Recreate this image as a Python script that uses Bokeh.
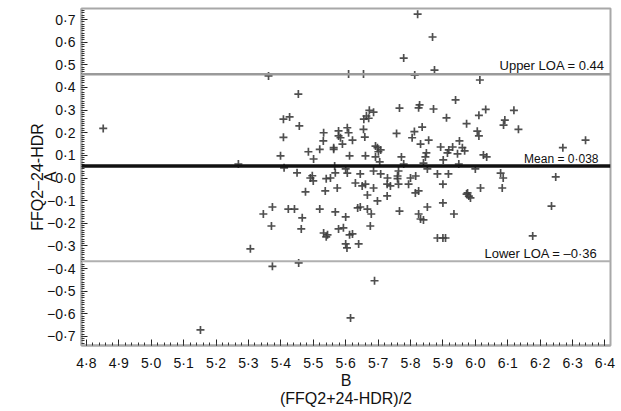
import numpy as np
from bokeh.plotting import figure
from bokeh.models import (ColumnDataSource, Span, Label, SingleIntervalTicker,
                          CustomJSTickFormatter, LinearAxis, FixedTicker)
from bokeh.embed import file_html
from bokeh.resources import INLINE

# ---- data ----
mean_x = [4.852, 5.269, 5.362, 5.454, 5.408, 5.427, 5.457, 5.408, 5.399, 5.485,
          5.501, 5.532, 5.531, 5.520, 5.563, 5.578, 5.578, 5.450, 5.497, 5.540,
          5.410, 5.566, 5.822, 5.868, 5.779, 5.874, 5.609, 5.655, 5.813, 6.014,
          5.939, 5.828, 5.825, 5.871, 5.766, 5.673, 5.686, 5.664, 5.656, 5.671,
          5.911, 6.032, 6.011, 6.119, 6.091, 6.087, 6.133, 5.973, 6.006, 6.011,
          5.836, 5.812, 5.805, 5.757, 5.655, 5.659, 5.609, 5.605, 5.584, 5.621,
          5.590, 5.563, 5.856, 5.831, 5.893, 5.930, 5.918, 5.951, 5.960, 5.967,
          5.945, 5.698, 5.701, 5.692, 5.661, 5.612, 5.772, 5.849, 5.846, 5.901,
          6.025, 6.035, 6.270, 6.340, 6.248, 6.078, 6.086, 6.000, 5.883, 5.917,
          5.852, 5.816, 5.800, 5.760, 5.729, 5.708, 5.686, 5.645, 5.605, 5.553,
          6.235, 6.177, 6.083, 6.016, 5.980, 5.973, 5.934, 5.900, 5.900, 5.900,
          5.692, 5.708, 5.914, 5.779, 5.840, 5.949, 5.705, 5.763, 5.760, 5.630,
          5.651, 5.661, 5.686, 5.728, 5.738, 5.763, 5.794, 5.667, 5.728, 5.815,
          5.825, 5.698, 5.645, 5.667, 5.679, 5.766, 5.852, 5.825, 5.831, 5.840,
          5.976, 5.985, 5.676, 5.621, 5.640, 5.883, 5.908, 5.491, 5.500, 5.476,
          5.537, 5.574, 5.568, 5.600, 5.374, 5.346, 5.423, 5.442, 5.520, 5.466,
          5.371, 5.463, 5.568, 5.600, 5.578, 5.593, 5.532, 5.544, 5.540, 5.612,
          5.600, 5.306, 5.637, 5.374, 5.455, 5.604, 5.615, 5.152, 5.689]
diff_y = [0.219, 0.062, 0.451, 0.371, 0.260, 0.270, 0.230, 0.180, 0.098, 0.116,
          0.084, 0.200, 0.164, 0.127, 0.127, 0.208, 0.186, 0.023, 0.010, -0.003,
          0.045, 0.053, 0.724, 0.623, 0.530, 0.477, 0.460, 0.460, 0.455, 0.433,
          0.345, 0.323, 0.310, 0.305, 0.309, 0.299, 0.291, 0.274, 0.260, 0.264,
          0.266, 0.303, 0.277, 0.299, 0.256, 0.234, 0.215, 0.240, 0.207, 0.186,
          0.225, 0.205, 0.178, 0.197, 0.215, 0.181, 0.200, 0.222, 0.178, 0.167,
          0.150, 0.134, 0.167, 0.150, 0.137, 0.137, 0.124, 0.164, 0.134, 0.120,
          0.107, 0.134, 0.116, 0.093, 0.098, 0.098, 0.093, 0.111, 0.093, 0.080,
          0.102, 0.093, 0.134, 0.167, 0.005, 0.022, 0.000, 0.040, 0.018, 0.018,
          0.040, 0.009, 0.000, 0.009, 0.000, 0.018, 0.031, 0.018, 0.022, 0.000,
          -0.124, -0.256, -0.044, -0.044, -0.080, -0.071, -0.159, -0.027, -0.110, -0.265,
          0.141, 0.124, 0.111, 0.062, 0.066, 0.062, 0.071, 0.031, -0.003, -0.022,
          -0.035, -0.027, -0.044, -0.027, -0.035, -0.027, -0.027, -0.075, -0.079, -0.066,
          -0.057, -0.101, -0.128, -0.137, -0.159, -0.146, -0.128, -0.159, -0.181, -0.185,
          -0.066, -0.088, -0.212, -0.247, -0.291, -0.265, -0.265, 0.000, -0.013, -0.061,
          -0.057, -0.044, 0.023, 0.040, -0.128, -0.159, -0.137, -0.137, -0.137, -0.176,
          -0.212, -0.225, -0.150, -0.172, -0.225, -0.220, -0.243, -0.251, -0.260, -0.251,
          -0.291, -0.313, -0.132, -0.390, -0.375, -0.309, -0.618, -0.671, -0.454]

mean_line = 0.053
upper_loa = 0.458
lower_loa = -0.368
mean_text = "Mean = 0·038"
upper_text = "Upper LOA = 0.44"
lower_text = "Lower LOA = –0·36"
y_title_1 = "FFQ2–24-HDR"
y_title_2 = "A"
x_title_1 = "B"
x_title_2 = "(FFQ2+24-HDR)/2"

FONT = "Liberation Sans"

src = ColumnDataSource(dict(x=mean_x, y=diff_y))

p = figure(width=621, height=411, x_range=(4.785, 6.417), y_range=(-0.74, 0.749),
           output_backend="svg", toolbar_location=None,
           min_border_left=81, min_border_right=11, min_border_top=8,
           min_border_bottom=66)
p.background_fill_color = "white"
p.border_fill_color = "white"
p.grid.visible = False
p.outline_line_color = "#a8a8a8"
p.outline_line_width = 2

fmt = CustomJSTickFormatter(code="""
const s = Math.abs(tick) < 1e-9 ? "0.0" : tick.toFixed(1);
return s.replace("-", "\u2212").replace(".", "\u00b7");
""")

p.xaxis.ticker = SingleIntervalTicker(interval=0.1, num_minor_ticks=5)
p.yaxis.ticker = SingleIntervalTicker(interval=0.1, num_minor_ticks=10)
for ax in (p.xaxis[0], p.yaxis[0]):
    ax.formatter = fmt
    ax.axis_line_color = "#a8a8a8"
    ax.axis_line_width = 2
    ax.major_tick_in = 6
    ax.major_tick_out = 0
    ax.minor_tick_in = 3
    ax.minor_tick_out = 0
    ax.major_tick_line_color = "#222222"
    ax.minor_tick_line_color = "#333333"
    ax.major_label_text_font = FONT
    ax.major_label_text_font_size = "14px"
    ax.major_label_text_color = "#111111"
    ax.axis_label_text_font = FONT
    ax.axis_label_text_font_size = "16px"
    ax.axis_label_text_font_style = "normal"
    ax.axis_label_text_color = "#111111"
p.xaxis.major_label_standoff = 9
p.yaxis.major_label_standoff = 6
p.xaxis.axis_label = x_title_1
p.xaxis.axis_label_standoff = -2
p.yaxis.axis_label = y_title_2
p.yaxis.axis_label_standoff = -15

def title_axis(text, standoff):
    a = LinearAxis(ticker=FixedTicker(ticks=[]), axis_line_color=None,
                   major_tick_line_color=None, minor_tick_line_color=None,
                   major_label_text_font_size="0px", major_label_standoff=0,
                   axis_label=text, axis_label_standoff=standoff,
                   axis_label_text_font=FONT, axis_label_text_font_size="16px",
                   axis_label_text_font_style="normal",
                   axis_label_text_color="#111111")
    return a

p.add_layout(title_axis(x_title_2, -2), "below")
p.add_layout(title_axis(y_title_1, -6), "left")

for loc, col, w in ((upper_loa, "#9a9a9a", 2.5), (lower_loa, "#b0b0b0", 2),
                    (mean_line, "#111111", 3.5)):
    p.add_layout(Span(location=loc, dimension="width", line_color=col, line_width=w))

p.scatter("x", "y", source=src, marker="cross", size=8, line_width=1.7,
          line_color="#3c3c3c", line_alpha=0.9)

def lab(x, y, t, size):
    p.add_layout(Label(x=x, y=y, text=t, text_font=FONT, text_font_size=size,
                       text_align="right", text_baseline="middle",
                       text_color="#111111"))

lab(6.399, upper_loa + 0.039, upper_text, "13px")
lab(6.380, mean_line + 0.033, mean_text, "12px")
lab(6.377, lower_loa + 0.035, lower_text, "13px")

open("out.html", "w").write(file_html(p, INLINE))
